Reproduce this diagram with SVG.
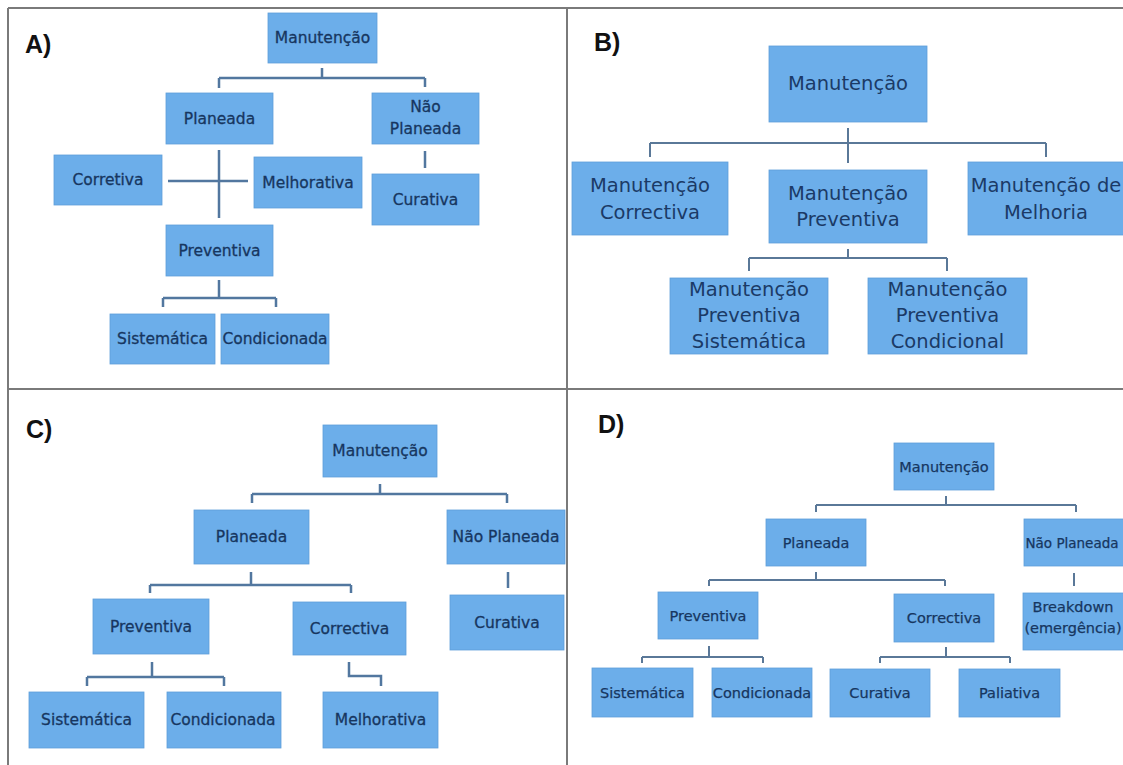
<svg xmlns="http://www.w3.org/2000/svg" width="1123" height="765" viewBox="0 0 1123 765">
<style>
.bg{fill:#ffffff}
.frame{stroke:#7a7a7a;stroke-width:2;fill:none}
.box{fill:#6caeea;stroke:#5f9fd9;stroke-width:0.8}
.t{font-family:"DejaVu Sans",sans-serif;fill:#173660;text-anchor:middle;dominant-baseline:central}
.ta{font-size:15.5px;stroke:#173660;stroke-width:0.3}
.tb{font-size:19.5px;fill:#1b3a66}
.tc{font-size:15.5px;stroke:#173660;stroke-width:0.3}
.td{font-size:14.5px;stroke:#173660;stroke-width:0.25}
.lab{font-family:"Liberation Sans",Arial,sans-serif;font-weight:bold;font-size:25px;fill:#111}
.con{stroke:#52779f;stroke-width:2.5;fill:none}
.conb{stroke:#5a7898;stroke-width:2;fill:none}
</style>
<rect class="bg" x="0" y="0" width="1123" height="765"/>
<g id="frame">
<path class="frame" d="M8,8 H1123 M8,8 V765 M567,8 V765 M8,389 H1123"/>
</g>
<g id="labels">
<text class="lab" x="25" y="53">A)</text>
<text class="lab" x="594" y="51">B)</text>
<text class="lab" x="26" y="438">C)</text>
<text class="lab" x="598" y="433">D)</text>
</g>
<g id="connectors">
<path class="con" d="M322,68 V78 M219,78 H425 M219,78 V88 M425,78 V87 M219,150 V218 M168,181 H248 M425,151 V168 M219,280 V298 M163,298 H276 M163,298 V307 M276,298 V307"/>
<path class="conb" d="M848,128 V163 M650,143 H1046 M650,143 V157 M1046,143 V157 M848,249 V258 M749,258 H947 M749,258 V271 M947,258 V271"/>
<path class="con" d="M380,484 V494 M252,494 H507 M252,494 V503 M507,494 V503 M251,572 V585 M150,585 H351 M150,585 V593 M351,585 V593 M508,572 V588 M152,662 V677 M87,677 H224 M87,677 V686 M224,677 V686 M349,662 V676 H381 V686"/>
<path class="conb" d="M946,496 V505 M816,505 H1076 M816,505 V512 M1076,505 V512 M816,572 V580 M709,580 H945 M709,580 V586 M945,580 V586 M1074,573 V586 M709,646 V657 M642,657 H763 M642,657 V663 M763,657 V663 M946,647 V657 M880,657 H1010 M880,657 V663 M1010,657 V663"/>
</g>
<g id="a-manutencao"><rect class="box" x="268" y="13" width="109" height="50"/><text class="t ta" x="322.5" y="38">Manutenção</text></g>
<g id="a-planeada"><rect class="box" x="166" y="93" width="107" height="51"/><text class="t ta" x="219.5" y="118.5">Planeada</text></g>
<g id="a-nao-planeada"><rect class="box" x="372" y="93" width="107" height="51"/><text class="t ta" x="425.5" y="107">Não</text><text class="t ta" x="425.5" y="129">Planeada</text></g>
<g id="a-corretiva"><rect class="box" x="54" y="155" width="108" height="50"/><text class="t ta" x="108" y="180">Corretiva</text></g>
<g id="a-melhorativa"><rect class="box" x="254" y="157" width="108" height="51"/><text class="t ta" x="308" y="182.5">Melhorativa</text></g>
<g id="a-curativa"><rect class="box" x="372" y="174" width="107" height="51"/><text class="t ta" x="425.5" y="199.5">Curativa</text></g>
<g id="a-preventiva"><rect class="box" x="166" y="225" width="107" height="51"/><text class="t ta" x="219.5" y="250.5">Preventiva</text></g>
<g id="a-sistematica"><rect class="box" x="110" y="314" width="105" height="50"/><text class="t ta" x="162.5" y="339">Sistemática</text></g>
<g id="a-condicionada"><rect class="box" x="221" y="314" width="108" height="50"/><text class="t ta" x="275" y="339">Condicionada</text></g>
<g id="b-manutencao"><rect class="box" x="769" y="46" width="158" height="76"/><text class="t tb" x="848" y="83">Manutenção</text></g>
<g id="b-correctiva"><rect class="box" x="572" y="162" width="156" height="73"/><text class="t tb" x="650" y="185">Manutenção</text><text class="t tb" x="650" y="212">Correctiva</text></g>
<g id="b-preventiva"><rect class="box" x="769" y="170" width="158" height="73"/><text class="t tb" x="848" y="193">Manutenção</text><text class="t tb" x="848" y="219">Preventiva</text></g>
<g id="b-melhoria"><rect class="box" x="968" y="162" width="160" height="73"/><text class="t tb" x="1046" y="185">Manutenção de</text><text class="t tb" x="1046" y="212">Melhoria</text></g>
<g id="b-sistematica"><rect class="box" x="670" y="278" width="158" height="76"/><text class="t tb" x="749" y="289">Manutenção</text><text class="t tb" x="749" y="315">Preventiva</text><text class="t tb" x="749" y="341">Sistemática</text></g>
<g id="b-condicional"><rect class="box" x="868" y="278" width="159" height="76"/><text class="t tb" x="947.5" y="289">Manutenção</text><text class="t tb" x="947.5" y="315">Preventiva</text><text class="t tb" x="947.5" y="341">Condicional</text></g>
<g id="c-manutencao"><rect class="box" x="323" y="425" width="114" height="52"/><text class="t tc" x="380" y="451">Manutenção</text></g>
<g id="c-planeada"><rect class="box" x="194" y="510" width="115" height="54"/><text class="t tc" x="251.5" y="537">Planeada</text></g>
<g id="c-nao-planeada"><rect class="box" x="447" y="510" width="118" height="54"/><text class="t tc" x="506" y="537">Não Planeada</text></g>
<g id="c-curativa"><rect class="box" x="450" y="595" width="114" height="55"/><text class="t tc" x="507" y="622.5">Curativa</text></g>
<g id="c-preventiva"><rect class="box" x="93" y="599" width="116" height="55"/><text class="t tc" x="151" y="626.5">Preventiva</text></g>
<g id="c-correctiva"><rect class="box" x="293" y="602" width="113" height="53"/><text class="t tc" x="349.5" y="628.5">Correctiva</text></g>
<g id="c-sistematica"><rect class="box" x="29" y="692" width="115" height="56"/><text class="t tc" x="86.5" y="720">Sistemática</text></g>
<g id="c-condicionada"><rect class="box" x="167" y="692" width="114" height="56"/><text class="t tc" x="223" y="720">Condicionada</text></g>
<g id="c-melhorativa"><rect class="box" x="323" y="692" width="115" height="56"/><text class="t tc" x="380.5" y="720">Melhorativa</text></g>
<g id="d-manutencao"><rect class="box" x="894" y="443" width="100" height="47"/><text class="t td" x="944" y="466.5">Manutenção</text></g>
<g id="d-planeada"><rect class="box" x="766" y="519" width="100" height="47"/><text class="t td" x="816" y="542.5">Planeada</text></g>
<g id="d-nao-planeada"><rect class="box" x="1024" y="519" width="104" height="47"/><text class="t td" x="1072" y="542.5" style="font-size:13.5px">Não Planeada</text></g>
<g id="d-preventiva"><rect class="box" x="658" y="592" width="100" height="47"/><text class="t td" x="708" y="615.5">Preventiva</text></g>
<g id="d-correctiva"><rect class="box" x="894" y="594" width="100" height="48"/><text class="t td" x="944" y="618">Correctiva</text></g>
<g id="d-breakdown"><rect class="box" x="1023" y="593" width="106" height="57"/><text class="t td" x="1073" y="607">Breakdown</text><text class="t td" x="1073" y="628">(emergência)</text></g>
<g id="d-sistematica"><rect class="box" x="592" y="668" width="101" height="49"/><text class="t td" x="642.5" y="692.5">Sistemática</text></g>
<g id="d-condicionada"><rect class="box" x="712" y="668" width="100" height="49"/><text class="t td" x="762" y="692.5">Condicionada</text></g>
<g id="d-curativa"><rect class="box" x="830" y="669" width="100" height="48"/><text class="t td" x="880" y="693">Curativa</text></g>
<g id="d-paliativa"><rect class="box" x="959" y="669" width="101" height="48"/><text class="t td" x="1009.5" y="693">Paliativa</text></g>
</svg>
